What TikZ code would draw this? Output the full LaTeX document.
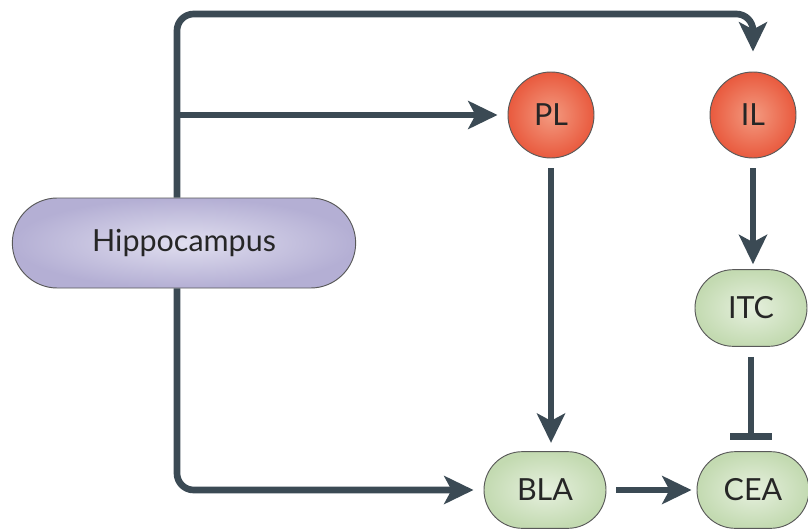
\documentclass[tikz,border=0pt]{standalone}
\usepackage{fontspec}
\setmainfont{Lato}
\usetikzlibrary{arrows.meta,shapes.misc}
\definecolor{linkgray}{HTML}{3B4A54}
\definecolor{hipfill}{HTML}{B4AFD4}
\definecolor{hipin}{HTML}{E0DEEF}
\definecolor{redfill}{HTML}{E95A3E}
\definecolor{redin}{HTML}{F39A80}
\definecolor{grnfill}{HTML}{C3DAB1}
\definecolor{grnin}{HTML}{E6F0DE}
\begin{document}
\begin{tikzpicture}[x=0.03cm,y=-0.03cm,
    font=\fontsize{26}{31}\selectfont,
    region/.style={rounded rectangle,draw=black!65,line width=0.8pt,
      text=black!85,inner sep=0pt},
    cortex/.style={circle,draw=black!65,line width=0.8pt,text=black!85,
      minimum size=2.58cm,inner sep=0pt,shading=radial,
      inner color=redin,outer color=redfill},
    amyg/.style={region,minimum height=2.3cm,shading=radial,
      inner color=grnin,outer color=grnfill},
    link/.style={draw=linkgray,line width=0.2cm,rounded corners=0.5cm,
      -{Stealth[width=0.84cm,length=0.88cm,inset=0.22cm]}},
    block/.style={draw=linkgray,line width=0.2cm,
      -{Bar[width=1.25cm]}}]
  \useasboundingbox (0,0) rectangle (808,531);

  %% nodes
  \node [region,minimum width=10.3cm,minimum height=2.7cm,shading=radial,
    inner color=hipin,outer color=hipfill] (hip) at (184,243) {Hippocampus};
  \node [cortex] (PL) at (551,115) {PL};
  \node [cortex] (IL) at (753,115) {IL};
  \node [amyg,minimum width=3.36cm] (ITC) at (751,308) {ITC};
  \node [amyg,minimum width=3.66cm] (BLA) at (545,490) {BLA};
  \node [amyg,minimum width=3.36cm] (CEA) at (753,490) {CEA};

  %% the hippocampal trunk runs a little left of the centre
  \coordinate (top) at (177,14);
  \coordinate (brPL) at (177,115);

  %% connections
  \draw [link,shorten >=0.6cm] (hip.north -| top) -- (top) -| (IL.north);
  \draw [link,shorten >=0.3cm] (brPL) -- (PL.west);
  \draw [link,shorten >=0.3cm] (hip.south -| top) |- (BLA.west);
  \draw [link,shorten <=0.3cm,shorten >=0.25cm] (PL.south) -- (PL.south |- BLA.north);
  \draw [link,shorten <=0.3cm,shorten >=0.15cm] (IL.south) -- (IL.south |- ITC.north);
  \draw [block,shorten <=0.3cm,shorten >=0.35cm] (ITC.south) -- (ITC.south |- CEA.north);
  \draw [link,shorten <=0.3cm,shorten >=0.15cm] (BLA.east) -- (CEA.west);
\end{tikzpicture}
\end{document}
